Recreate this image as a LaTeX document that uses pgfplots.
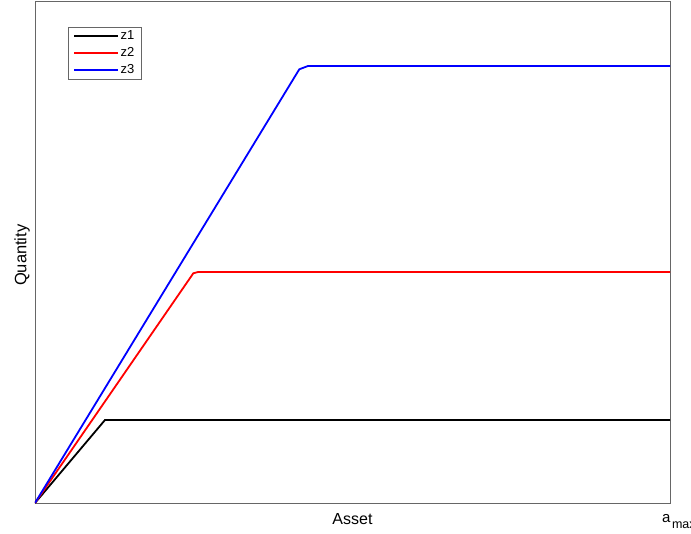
\documentclass[border=0pt]{standalone}
\usepackage{pgfplots}
\pgfplotsset{compat=1.18}
\usepackage{fontspec}
\setmainfont{Liberation Sans}
\definecolor{axgray}{gray}{0.4}
\definecolor{zblue}{rgb}{0,0,1}
\definecolor{zred}{rgb}{1,0,0}
\begin{document}
\begin{tikzpicture}[x=1pt,y=1pt]
% page frame
\path[use as bounding box] (-35pt,-30pt) rectangle (656pt,503pt);
\begin{axis}[
  at={(0pt,0pt)}, anchor=south west,
  scale only axis, width=635pt, height=501.5pt,
  xmin=0, xmax=1, ymin=0, ymax=5.015,
  axis line style={axgray, line width=0.8pt},
  xtick={1},
  xticklabels={a\hspace{1.5pt}\raisebox{-0.75ex}{\fontsize{12.5}{12.5}\selectfont max}},
  xticklabel style={font=\fontsize{15}{15}\selectfont, anchor=north west, xshift=-8pt, yshift=-11pt, inner sep=0pt},
  ytick=\empty,
  major tick length=0pt,
  xlabel={Asset}, ylabel={Quantity},
  xlabel style={font=\fontsize{16}{16}\selectfont, at={(axis description cs:0.5,0)}, anchor=north, yshift=-10pt, inner sep=0pt},
  ylabel style={font=\fontsize{16.5}{16.5}\selectfont, at={(axis description cs:-0.008,0.514)}, anchor=south, xshift=-10pt, inner sep=0pt},
  legend style={at={(axis description cs:0.052,0.949)}, anchor=north west,
    draw=axgray, line width=0.6pt, fill=white,
    inner xsep=5pt, inner ysep=2pt, row sep=3.5pt,
    font=\fontsize{13}{13}\selectfont, nodes={inner sep=1.5pt}},
  legend cell align=left,
  legend image code/.code={\draw[#1] (0pt,0pt) -- (44pt,0pt);},
  legend image post style={line width=1.8pt},
]
\addplot[black, line width=1.8pt] coordinates {(0,0) (0.1102,0.830) (1,0.830)};
\addlegendentry{z1}
\addplot[zred, line width=1.8pt] coordinates {(0,0) (0.2493,2.297) (0.2567,2.310) (1,2.310)};
\addlegendentry{z2}
\addplot[zblue, line width=1.8pt] coordinates {(0,0) (0.4162,4.337) (0.4299,4.370) (1,4.370)};
\addlegendentry{z3}
\end{axis}
\end{tikzpicture}
\end{document}
